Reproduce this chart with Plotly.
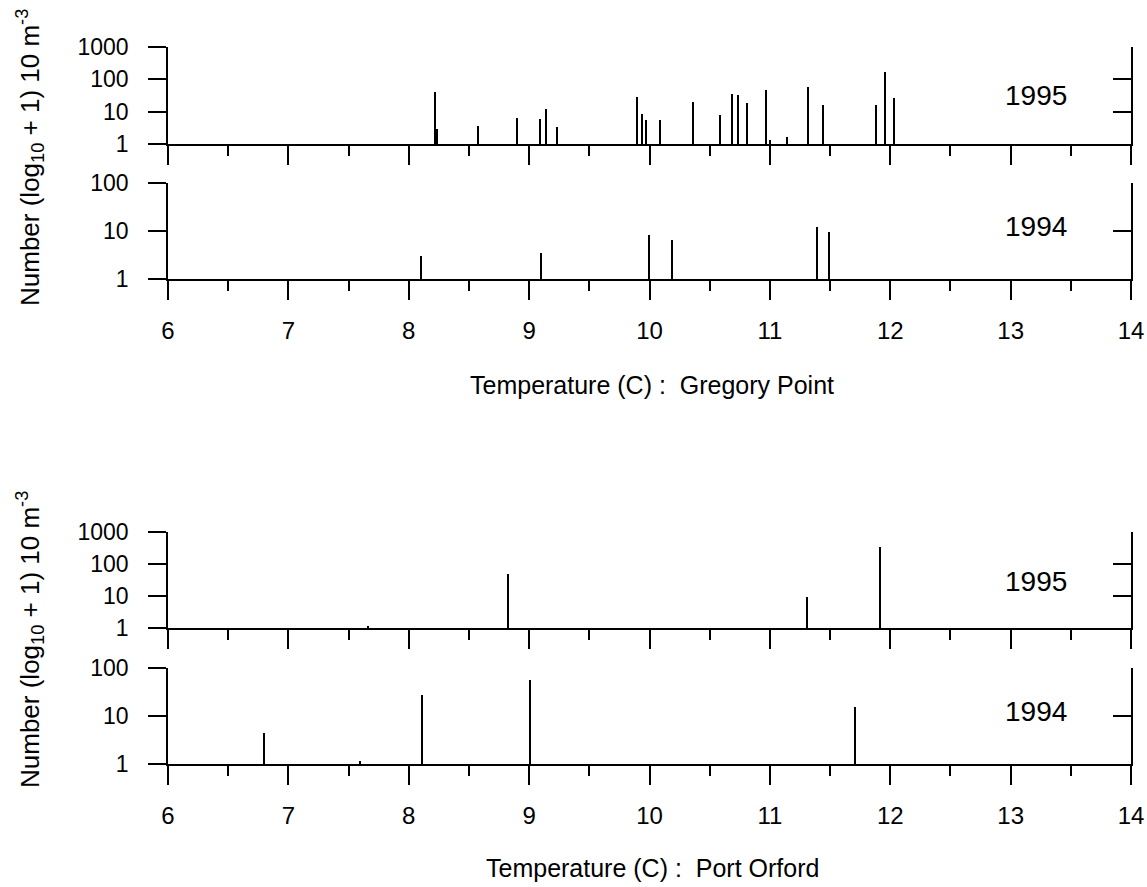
import plotly.graph_objects as go

# ---- data (temperature in C, number = log10 scale values) ----
gp95_temp = [8.22, 8.24, 8.58, 8.90, 9.09, 9.14, 9.23, 9.90, 9.94, 9.97, 10.09, 10.36,
             10.59, 10.69, 10.74, 10.81, 10.97, 11.00, 11.14, 11.32, 11.44, 11.88, 11.96, 12.03]
gp95_num = [40, 3, 3.6, 6.2, 5.8, 12, 3.4, 29, 8.5, 5.5, 5.5, 20,
            7.7, 35, 32, 18.6, 46, 1.3, 1.7, 59, 16, 16, 173, 27]

gp94_temp = [8.10, 9.10, 10.00, 10.19, 11.39, 11.49]
gp94_num = [3.0, 3.5, 8.1, 6.4, 12, 9.5]

po95_temp = [7.66, 8.83, 11.31, 11.92]
po95_num = [1.2, 48, 9.5, 340]

po94_temp = [6.80, 7.60, 8.11, 9.01, 11.71]
po94_num = [4.4, 1.2, 27, 56, 15.8]

years = ["1995", "1994", "1995", "1994"]
x_titles = ["Temperature (C) :  Gregory Point", "Temperature (C) :  Port Orford"]
y_title = "Number (log<sub>10</sub> + 1) 10 m<sup>-3</sup>"
x_ticks = [6, 7, 8, 9, 10, 11, 12, 13, 14]
y_ticks_95 = [1, 10, 100, 1000]
y_ticks_94 = [1, 10, 100]

W, H = 1147, 887
FONT = "Liberation Sans, Arial, sans-serif"

def px_y(top, bottom):
    return [1 - bottom / H, 1 - top / H]

xdom = [168 / W, 1131 / W]
ydoms = [px_y(47, 144), px_y(183, 279), px_y(531.5, 628), px_y(667.5, 764)]

series = [(gp95_temp, gp95_num), (gp94_temp, gp94_num),
          (po95_temp, po95_num), (po94_temp, po94_num)]

fig = go.Figure()
layout = dict(
    template="none",
    width=W, height=H,
    margin=dict(l=0, r=0, t=0, b=0, pad=0, autoexpand=False),
    paper_bgcolor="white", plot_bgcolor="white",
    showlegend=False, bargap=0,
    font=dict(family=FONT, color="black", size=23),
)

for i, (xs, ys) in enumerate(series):
    n = i + 1
    xa = "x" if n == 1 else f"x{n}"
    ya = "y" if n == 1 else f"y{n}"
    fig.add_trace(go.Bar(x=xs, y=ys, width=0.012, marker=dict(color="black", line=dict(width=0)),
                         xaxis=xa, yaxis=ya, hoverinfo="x+y"))
    is95 = (i % 2 == 0)
    yr = [0, 3] if is95 else [0, 2]
    yt = y_ticks_95 if is95 else y_ticks_94
    layout[f"xaxis{n if n > 1 else ''}"] = dict(
        domain=xdom, anchor=ya, range=[6, 14], tickvals=x_ticks, automargin=False,
        showticklabels=not is95, ticks="outside", ticklen=19, tickwidth=1.5,
        tickcolor="black", showline=True, linecolor="black", linewidth=1.5,
        showgrid=False, zeroline=False, tickfont=dict(size=24), ticklabelstandoff=10,
        minor=dict(tickvals=[6.5 + k for k in range(8)], ticks="outside", ticklen=10,
                   tickwidth=1.5, tickcolor="black", showgrid=False),
    )
    layout[f"yaxis{n if n > 1 else ''}"] = dict(
        domain=ydoms[i], anchor=xa, type="log", range=yr, tickvals=yt, automargin=False,
        ticktext=[str(v) for v in yt], ticks="outside", ticklen=18, tickwidth=1.5,
        tickcolor="black", showline=True, linecolor="black", linewidth=1.5,
        showgrid=False, zeroline=False, ticklabelstandoff=15, tickfont=dict(size=23),
    )
    # right axis with inward ticks
    layout[f"yaxis{n + 4}"] = dict(
        domain=ydoms[i], anchor=xa, overlaying=ya, side="right", type="log", range=yr,
        tickvals=yt, showticklabels=False, ticks="inside", ticklen=18, tickwidth=1.5,
        tickcolor="black", showline=True, linecolor="black", linewidth=1.5,
        showgrid=False, zeroline=False, automargin=False,
    )
    fig.add_trace(go.Scatter(x=[None], y=[None], xaxis=xa, yaxis=f"y{n + 4}",
                             hoverinfo="skip", showlegend=False))

fig.update_layout(**layout)

# year labels
year_y = [95, 227, 581, 711]
for yr_txt, yy in zip(years, year_y):
    fig.add_annotation(text=yr_txt, xref="paper", yref="paper", x=1036 / W, y=1 - yy / H,
                       showarrow=False, font=dict(size=28, family=FONT), xanchor="center",
                       yanchor="middle")

# x titles
for t, yy in zip(x_titles, [385, 868]):
    fig.add_annotation(text=t, xref="paper", yref="paper", x=652 / W, y=1 - yy / H,
                       showarrow=False, font=dict(size=25, family=FONT), xanchor="center",
                       yanchor="middle")

# y titles
for yy in [158, 640]:
    fig.add_annotation(text=y_title, xref="paper", yref="paper", x=30 / W, y=1 - yy / H,
                       showarrow=False, textangle=-90, font=dict(size=26, family=FONT),
                       xanchor="center", yanchor="middle")

fig.write_html("out.html", config={"displayModeBar": False},
               post_script="document.body.style.margin='0';document.body.style.overflow='hidden';")
